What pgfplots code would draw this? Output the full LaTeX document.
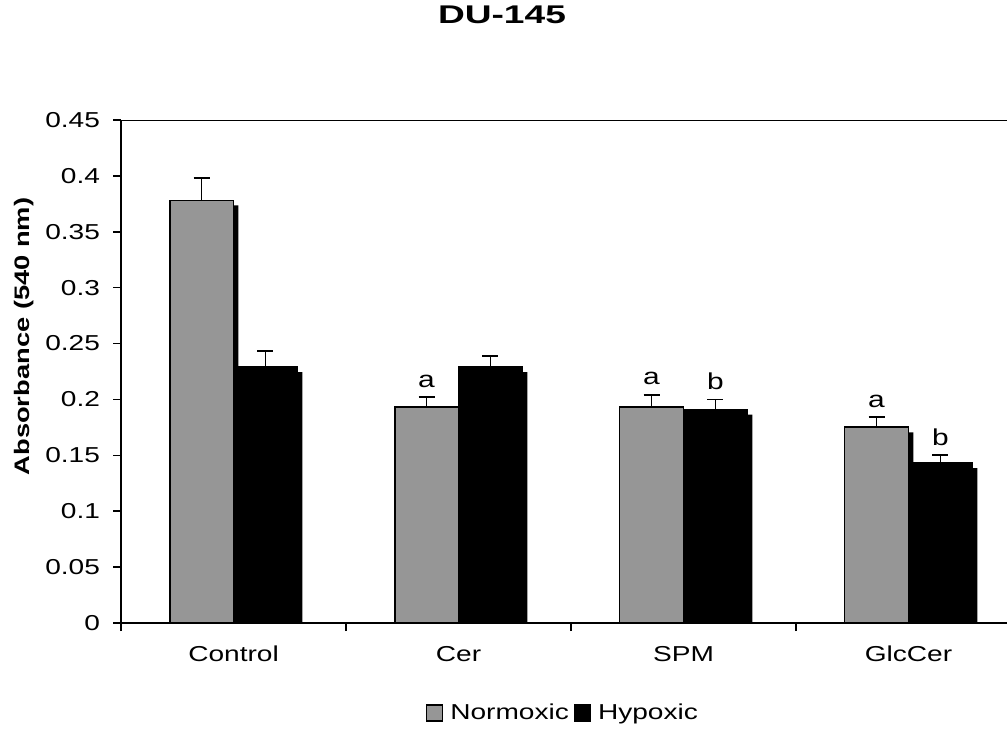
\documentclass[border=0pt]{standalone}
\usepackage{fontspec}
\setmainfont{Liberation Sans}[FakeStretch=1.3]
\newfontfamily\titlefont{Liberation Sans}[FakeStretch=1.45]
\usepackage{pgfplots}
\usepackage{pgfplotstable}
\pgfplotsset{compat=1.18}
\definecolor{normgray}{RGB}{150,150,150}

% absorbance means and standard errors per treatment
\pgfplotstableread{
x norm normerr hyp hyperr
0 0.378 0.020 0.229 0.014
1 0.193 0.009 0.229 0.010
2 0.193 0.011 0.191 0.009
3 0.175 0.009 0.143 0.007
}\datatable

\pgfplotsset{
  sqlegend/.style={legend image code/.code={%
    \draw[##1, line width=0.6pt] (0pt,-4pt) rectangle (8pt,4pt);}},
}

\begin{document}
\begin{tikzpicture}
\begin{axis}[
  scale only axis, width=443pt, height=251.5pt,
  xmin=-0.5, xmax=3.438, ymin=0, ymax=0.45,
  axis x line=bottom, axis y line=left,
  axis line style={-, line width=0.8pt},
  tick align=outside, major tick length=4pt,
  tick style={black, line width=0.8pt},
  ytick={0,0.05,0.1,0.15,0.2,0.25,0.3,0.35,0.4,0.45},
  scaled y ticks=false,
  yticklabel={\pgfmathprintnumber[fixed, precision=2, assume math mode=true]{\tick}},
  ticklabel style={font=\fontsize{10.8}{12}\selectfont},
  yticklabel style={xshift=-3pt},
  xtick={-0.5,0.5,1.5,2.5}, xticklabels={},
  extra x ticks={0,1,2,3},
  extra x tick labels={Control,Cer,SPM,GlcCer},
  extra x tick style={major tick length=0pt,
    xticklabel style={yshift=-8pt}},
  ylabel={Absorbance (540 nm)},
  ylabel style={font=\bfseries\fontsize{10.5}{12}\selectfont,
    at={(axis description cs:-0.1095,0.5696)}, anchor=center},
  title={DU-145},
  title style={font=\titlefont\bfseries\fontsize{12.8}{15}\selectfont,
    at={(axis description cs:0.43,1.185)}, anchor=center},
  legend style={draw=none, fill=none,
    at={(axis description cs:0.5,-0.179)}, anchor=center,
    legend columns=2, font=\fontsize{10.8}{12}\selectfont,
    /tikz/every even column/.append style={column sep=0.5pt},
    /tikz/every odd column/.append style={column sep=1.5pt}},
  ybar, bar width=0.284,
]
% drop shadows behind the bars
\addplot[forget plot, fill=black, draw=none, bar shift=-0.120, yshift=-2.5pt]
  table[x=x, y=norm] {\datatable};
\addplot[forget plot, fill=black, draw=none, bar shift=0.164, yshift=-2.5pt]
  table[x=x, y=hyp] {\datatable};
% bars with upper error bars
\addplot[sqlegend, fill=normgray, draw=black, line width=0.9pt, bar shift=-0.142,
  error bars/.cd, y dir=plus, y explicit,
  error bar style={line width=0.9pt, black},
  error mark options={rotate=90, mark size=4pt, line width=0.9pt, black}]
  table[x=x, y=norm, y error=normerr] {\datatable};
\addlegendentry{Normoxic}
\addplot[sqlegend, fill=black, draw=black, line width=0.9pt, bar shift=0.142,
  error bars/.cd, y dir=plus, y explicit,
  error bar style={line width=0.9pt, black},
  error mark options={rotate=90, mark size=4pt, line width=0.9pt, black}]
  table[x=x, y=hyp, y error=hyperr] {\datatable};
\addlegendentry{Hypoxic}
% significance letters
\begin{scope}[font=\fontsize{11.5}{14}\selectfont]
\node[anchor=base, yshift=5pt] at (axis cs:0.858,0.202) {a};
\node[anchor=base, yshift=5pt] at (axis cs:1.858,0.204) {a};
\node[anchor=base, yshift=5pt] at (axis cs:2.858,0.184) {a};
\node[anchor=base, yshift=5pt] at (axis cs:2.142,0.200) {b};
\node[anchor=base, yshift=5pt] at (axis cs:3.142,0.150) {b};
\end{scope}
% top frame line
\draw[line width=0.8pt] (rel axis cs:0,1) -- (rel axis cs:1,1);
\coordinate (bbsw) at (axis description cs:-0.1366,-0.2127);
\coordinate (bbne) at (axis description cs:1,1.2386);
\end{axis}
\pgfresetboundingbox
\path (bbsw) rectangle (bbne);
\end{tikzpicture}
\end{document}
